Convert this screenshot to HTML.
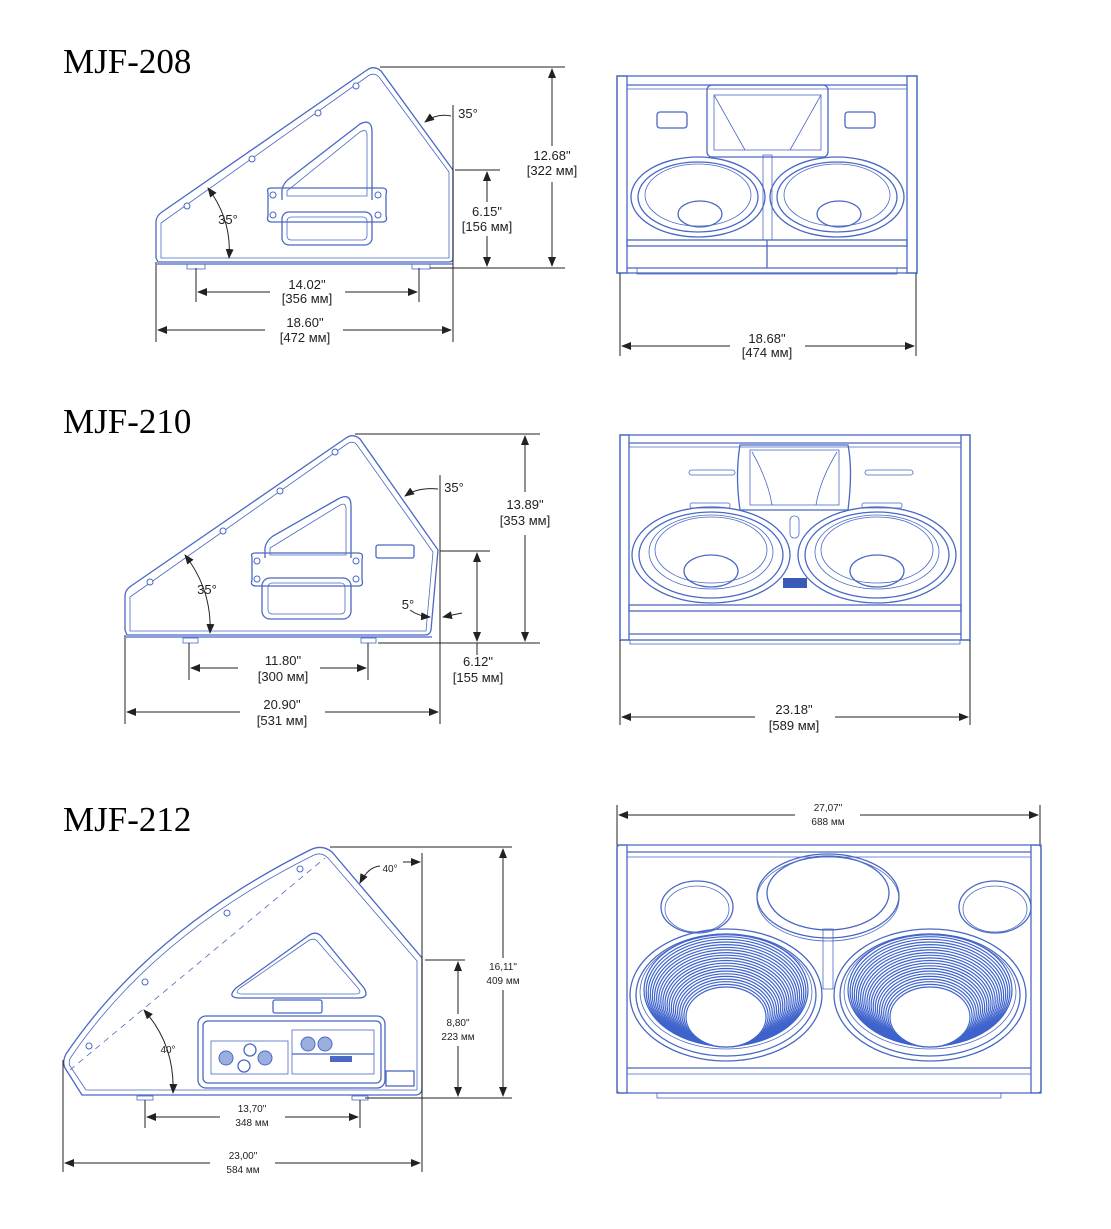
<!DOCTYPE html>
<html><head><meta charset="utf-8"><style>
html,body{margin:0;padding:0;background:#fff}
svg{display:block}
.b{fill:none;stroke:#4a68c4;stroke-width:1.3}
.bt{fill:none;stroke:#4a68c4;stroke-width:0.8}
.d{fill:none;stroke:#222;stroke-width:1}
.t{font-family:"Liberation Sans","DejaVu Sans",sans-serif;font-size:13px;fill:#222;text-anchor:middle}
.s{font-family:"Liberation Sans","DejaVu Sans",sans-serif;font-size:10px;fill:#222;text-anchor:middle}
.h{font-family:"Liberation Serif",serif;font-size:35px;fill:#000}
.sc{fill:#fff;stroke:#4a68c4;stroke-width:1}
</style></head><body>
<svg width="1111" height="1229" viewBox="0 0 1111 1229" xmlns="http://www.w3.org/2000/svg">
<defs>
<marker id="a" markerWidth="10" markerHeight="8" refX="9" refY="4" orient="auto-start-reverse" markerUnits="userSpaceOnUse"><path d="M0,0 L10,4 L0,8 z" fill="#222"/></marker>
</defs>
<rect width="1111" height="1229" fill="#fff"/>
<text class="h" x="63" y="73">MJF-208</text>
<text class="h" x="63" y="433">MJF-210</text>
<text class="h" x="63" y="831">MJF-212</text>

<!-- ===== MJF-208 side ===== -->
<path class="b" d="M158,262 L156,258 L156,222 Q156,216 162,212 L367,70 Q374,65 381,71 L453,170 L453,258 Q453,262 449,262 Z"/>
<path class="bt" d="M161,258 L161,223 L368,76 Q374,72 379,77 L449,172 L449,258 Z"/>
<line class="b" x1="157" y1="264" x2="453" y2="264"/>
<rect class="bt" x="187" y="264" width="18" height="5"/>
<rect class="bt" x="412" y="264" width="18" height="5"/>
<circle class="sc" cx="187" cy="206" r="3"/><circle class="sc" cx="252" cy="159" r="3"/><circle class="sc" cx="318" cy="113" r="3"/><circle class="sc" cx="356" cy="86" r="3"/>
<path class="b" d="M282,200 L282,190 Q283,183 290,178 L360,124 Q372,118 372,132 L372,200"/>
<path class="bt" d="M287,196 L287,191 L360,132 Q367,128 367,135 L367,196 Z"/>
<path class="b" d="M268,192 Q266,188 272,188 L382,188 Q388,188 386,194 L386,216 Q388,222 382,222 L272,222 Q266,222 268,216 Z"/>
<rect class="b" x="282" y="212" width="90" height="33" rx="7"/>
<rect class="bt" x="287" y="217" width="80" height="23" rx="4"/>
<circle class="sc" cx="273" cy="195" r="3"/><circle class="sc" cx="273" cy="215" r="3"/><circle class="sc" cx="378" cy="195" r="3"/><circle class="sc" cx="378" cy="215" r="3"/>
<!-- dims 208 -->
<line class="d" x1="380" y1="67" x2="565" y2="67"/>
<line class="d" x1="430" y1="268" x2="565" y2="268"/>
<line class="d" x1="455" y1="170" x2="500" y2="170"/>
<line class="d" x1="552" y1="69" x2="552" y2="146" marker-start="url(#a)"/>
<line class="d" x1="552" y1="182" x2="552" y2="266" marker-end="url(#a)"/>
<text class="t" x="552" y="160">12.68"</text><text class="t" x="552" y="175">[322 мм]</text>
<line class="d" x1="487" y1="172" x2="487" y2="202" marker-start="url(#a)"/>
<line class="d" x1="487" y1="236" x2="487" y2="266" marker-end="url(#a)"/>
<text class="t" x="487" y="216">6.15"</text><text class="t" x="487" y="231">[156 мм]</text>
<line class="d" x1="453" y1="105" x2="453" y2="342"/>
<line class="d" x1="156" y1="262" x2="156" y2="342"/>
<line class="d" x1="196" y1="268" x2="196" y2="302"/>
<line class="d" x1="419" y1="268" x2="419" y2="302"/>
<line class="d" x1="198" y1="292" x2="270" y2="292" marker-start="url(#a)"/>
<line class="d" x1="345" y1="292" x2="417" y2="292" marker-end="url(#a)"/>
<text class="t" x="307" y="289">14.02"</text><text class="t" x="307" y="303">[356 мм]</text>
<line class="d" x1="158" y1="330" x2="265" y2="330" marker-start="url(#a)"/>
<line class="d" x1="343" y1="330" x2="451" y2="330" marker-end="url(#a)"/>
<text class="t" x="305" y="327">18.60"</text><text class="t" x="305" y="342">[472 мм]</text>
<path class="d" d="M425,122 Q437,113 451,116" marker-start="url(#a)"/>
<text class="t" x="468" y="118">35°</text>
<path class="d" d="M208,188 Q232,220 229,258" marker-start="url(#a)" marker-end="url(#a)"/>
<text class="t" x="228" y="224">35°</text>

<!-- ===== MJF-208 front ===== -->
<rect class="b" x="617" y="76" width="300" height="197"/>
<rect class="b" x="617" y="76" width="10" height="197"/>
<rect class="b" x="907" y="76" width="10" height="197"/>
<line class="b" x1="627" y1="85" x2="907" y2="85"/><line class="bt" x1="627" y1="89" x2="907" y2="89"/>
<rect class="b" x="657" y="112" width="30" height="16" rx="3"/>
<rect class="b" x="845" y="112" width="30" height="16" rx="3"/>
<rect class="b" x="707" y="85" width="121" height="72" rx="5"/>
<rect class="bt" x="714" y="95" width="107" height="55"/>
<line class="bt" x1="714" y1="95" x2="745" y2="150"/><line class="bt" x1="821" y1="95" x2="790" y2="150"/>
<rect class="bt" x="763" y="155" width="9" height="85"/>
<g id="w8">
<ellipse class="b" cx="698" cy="197" rx="67" ry="40"/>
<ellipse class="b" cx="698" cy="197" rx="60" ry="35"/>
<ellipse class="bt" cx="698" cy="195" rx="53" ry="31"/>
<ellipse class="b" cx="700" cy="214" rx="22" ry="13"/>
</g>
<use href="#w8" transform="translate(139,0)"/>
<rect class="b" x="627" y="240" width="280" height="6"/>
<rect class="bt" x="627" y="246" width="280" height="22"/>
<line class="b" x1="627" y1="268" x2="907" y2="268"/>
<rect class="bt" x="637" y="268" width="260" height="6"/>
<line class="b" x1="767" y1="240" x2="767" y2="268"/>
<line class="d" x1="620" y1="273" x2="620" y2="356"/><line class="d" x1="916" y1="273" x2="916" y2="356"/>
<line class="d" x1="622" y1="346" x2="730" y2="346" marker-start="url(#a)"/>
<line class="d" x1="805" y1="346" x2="914" y2="346" marker-end="url(#a)"/>
<text class="t" x="767" y="343">18.68"</text><text class="t" x="767" y="357">[474 мм]</text>

<!-- ===== MJF-210 side ===== -->
<path class="b" d="M127,635 L125,630 L125,596 Q125,590 131,586 L346,438 Q353,433 360,439 L438,550 L431,630 Q430,635 425,635 Z"/>
<path class="bt" d="M130,631 L130,597 L347,444 Q353,440 357,445 L433,552 L426,631 Z"/>
<line class="b" x1="126" y1="637" x2="432" y2="637"/>
<rect class="bt" x="183" y="638" width="15" height="5"/>
<rect class="bt" x="361" y="638" width="15" height="5"/>
<circle class="sc" cx="150" cy="582" r="3"/><circle class="sc" cx="223" cy="531" r="3"/><circle class="sc" cx="280" cy="491" r="3"/><circle class="sc" cx="335" cy="452" r="3"/>
<path class="b" d="M265,558 L265,548 Q266,541 273,536 L338,499 Q351,492 351,506 L351,558"/>
<path class="bt" d="M270,555 L270,548 L340,505 Q346,502 346,509 L346,555 Z"/>
<path class="b" d="M252,557 Q250,553 256,553 L358,553 Q364,553 362,559 L362,580 Q364,586 358,586 L256,586 Q250,586 252,580 Z"/>
<rect class="b" x="262" y="578" width="89" height="41" rx="8"/>
<rect class="bt" x="268" y="583" width="77" height="31" rx="4"/>
<circle class="sc" cx="257" cy="561" r="3"/><circle class="sc" cx="257" cy="579" r="3"/><circle class="sc" cx="356" cy="561" r="3"/><circle class="sc" cx="356" cy="579" r="3"/>
<rect class="b" x="376" y="545" width="38" height="13" rx="2"/>
<!-- dims 210 -->
<line class="d" x1="355" y1="434" x2="540" y2="434"/>
<line class="d" x1="378" y1="643" x2="540" y2="643"/>
<line class="d" x1="440" y1="551" x2="490" y2="551"/>
<line class="d" x1="525" y1="436" x2="525" y2="492" marker-start="url(#a)"/>
<line class="d" x1="525" y1="535" x2="525" y2="641" marker-end="url(#a)"/>
<text class="t" x="525" y="509">13.89"</text><text class="t" x="525" y="525">[353 мм]</text>
<line class="d" x1="477" y1="553" x2="477" y2="641" marker-start="url(#a)" marker-end="url(#a)"/>
<line class="d" x1="477" y1="643" x2="477" y2="655"/>
<text class="t" x="478" y="666">6.12"</text><text class="t" x="478" y="682">[155 мм]</text>
<line class="d" x1="440" y1="475" x2="440" y2="724"/>
<line class="d" x1="125" y1="635" x2="125" y2="724"/>
<line class="d" x1="189" y1="643" x2="189" y2="680"/>
<line class="d" x1="368" y1="643" x2="368" y2="680"/>
<line class="d" x1="191" y1="668" x2="238" y2="668" marker-start="url(#a)"/>
<line class="d" x1="320" y1="668" x2="366" y2="668" marker-end="url(#a)"/>
<text class="t" x="283" y="665">11.80"</text><text class="t" x="283" y="681">[300 мм]</text>
<line class="d" x1="127" y1="712" x2="240" y2="712" marker-start="url(#a)"/>
<line class="d" x1="325" y1="712" x2="438" y2="712" marker-end="url(#a)"/>
<text class="t" x="282" y="709">20.90"</text><text class="t" x="282" y="725">[531 мм]</text>
<path class="d" d="M405,496 Q418,487 438,489" marker-start="url(#a)"/>
<text class="t" x="454" y="492">35°</text>
<path class="d" d="M185,555 Q212,590 210,633" marker-start="url(#a)" marker-end="url(#a)"/>
<text class="t" x="207" y="594">35°</text>
<path class="d" d="M410,610 Q418,616 430,617" marker-end="url(#a)"/>
<line class="d" x1="462" y1="613" x2="443" y2="617" marker-end="url(#a)"/>
<text class="t" x="408" y="609">5°</text>

<!-- ===== MJF-210 front ===== -->
<rect class="b" x="620" y="435" width="350" height="205"/>
<rect class="b" x="620" y="435" width="9" height="205"/>
<rect class="b" x="961" y="435" width="9" height="205"/>
<line class="b" x1="629" y1="443" x2="961" y2="443"/><line class="bt" x1="629" y1="447" x2="961" y2="447"/>
<rect class="bt" x="689" y="470" width="46" height="5" rx="2.5"/>
<rect class="bt" x="865" y="470" width="48" height="5" rx="2.5"/>
<rect class="bt" x="690" y="503" width="40" height="5" rx="2"/>
<rect class="bt" x="862" y="503" width="40" height="5" rx="2"/>
<path class="b" d="M740,445 L848,445 Q853,470 848,510 L740,510 Q735,475 740,445 Z"/>
<rect class="bt" x="750" y="450" width="89" height="55"/>
<path class="bt" d="M752,452 Q768,480 772,505 M837,452 Q820,480 816,505"/>
<rect class="bt" x="790" y="516" width="9" height="22" rx="4"/>
<rect fill="#3a5ab8" x="783" y="578" width="24" height="10"/>
<g id="w10">
<ellipse class="b" cx="711" cy="555" rx="79" ry="48"/>
<ellipse class="b" cx="711" cy="555" rx="72" ry="43"/>
<ellipse class="bt" cx="711" cy="552" rx="62" ry="37"/>
<ellipse class="bt" cx="711" cy="550" rx="56" ry="33"/>
<ellipse class="b" cx="711" cy="571" rx="27" ry="16"/>
</g>
<use href="#w10" transform="translate(166,0)"/>
<rect class="b" x="629" y="605" width="332" height="6"/>
<rect class="bt" x="629" y="611" width="332" height="23"/>
<line class="b" x1="629" y1="634" x2="961" y2="634"/>
<rect class="bt" x="630" y="640" width="330" height="4"/>
<line class="d" x1="620" y1="640" x2="620" y2="725"/><line class="d" x1="970" y1="640" x2="970" y2="725"/>
<line class="d" x1="622" y1="717" x2="755" y2="717" marker-start="url(#a)"/>
<line class="d" x1="835" y1="717" x2="968" y2="717" marker-end="url(#a)"/>
<text class="t" x="794" y="714">23.18"</text><text class="t" x="794" y="730">[589 мм]</text>

<!-- ===== MJF-212 side ===== -->
<path class="b" d="M82,1095 L65,1068 Q62,1062 66,1054 Q150,930 310,850 Q322,844 332,852 L422,958 L422,1088 Q422,1095 415,1095 Z"/>
<path class="bt" d="M86,1090 L70,1066 Q68,1062 71,1057 Q154,935 312,856 Q321,851 328,858 L417,961 L417,1090 Z"/>
<rect class="bt" x="137" y="1096" width="16" height="4"/>
<rect class="bt" x="352" y="1096" width="16" height="4"/>
<line class="bt" x1="70" y1="1070" x2="325" y2="858" stroke-dasharray="6,5"/>
<circle class="sc" cx="89" cy="1046" r="3"/><circle class="sc" cx="145" cy="982" r="3"/><circle class="sc" cx="227" cy="913" r="3"/><circle class="sc" cx="300" cy="869" r="3"/>
<path class="b" d="M240,998 Q226,998 236,988 L308,936 Q316,930 322,937 L364,988 Q370,998 358,998 Z"/>
<path class="bt" d="M243,994 Q233,994 240,988 L308,941 Q314,937 318,942 L358,988 Q363,994 355,994 Z"/>
<rect class="b" x="273" y="1000" width="49" height="13" rx="2"/>
<rect class="b" x="198" y="1016" width="187" height="72" rx="8"/>
<rect class="b" x="203" y="1021" width="178" height="62" rx="5"/>
<rect class="bt" x="211" y="1041" width="77" height="33"/>
<rect class="bt" x="292" y="1030" width="82" height="44"/>
<line class="b" x1="292" y1="1054" x2="374" y2="1054"/>
<circle cx="226" cy="1058" r="7" fill="#9aaee0" stroke="#4a68c4"/><circle cx="265" cy="1058" r="7" fill="#9aaee0" stroke="#4a68c4"/>
<circle class="b" cx="250" cy="1050" r="6"/><circle class="b" cx="244" cy="1066" r="6"/>
<circle cx="308" cy="1044" r="7" fill="#9aaee0" stroke="#4a68c4"/><circle cx="325" cy="1044" r="7" fill="#9aaee0" stroke="#4a68c4"/>
<rect fill="#4a68c4" x="330" y="1056" width="22" height="6"/>
<rect class="b" x="386" y="1071" width="28" height="15"/>
<!-- dims 212 -->
<line class="d" x1="330" y1="847" x2="512" y2="847"/>
<line class="d" x1="365" y1="1098" x2="512" y2="1098"/>
<line class="d" x1="425" y1="960" x2="465" y2="960"/>
<line class="d" x1="503" y1="849" x2="503" y2="958" marker-start="url(#a)"/>
<line class="d" x1="503" y1="990" x2="503" y2="1096" marker-end="url(#a)"/>
<text class="s" x="503" y="970">16,11"</text><text class="s" x="503" y="984">409 мм</text>
<line class="d" x1="458" y1="962" x2="458" y2="1014" marker-start="url(#a)"/>
<line class="d" x1="458" y1="1046" x2="458" y2="1096" marker-end="url(#a)"/>
<text class="s" x="458" y="1026">8,80"</text><text class="s" x="458" y="1040">223 мм</text>
<line class="d" x1="422" y1="853" x2="422" y2="1172"/>
<line class="d" x1="63" y1="1060" x2="63" y2="1172"/>
<line class="d" x1="145" y1="1100" x2="145" y2="1128"/>
<line class="d" x1="360" y1="1100" x2="360" y2="1128"/>
<line class="d" x1="147" y1="1117" x2="220" y2="1117" marker-start="url(#a)"/>
<line class="d" x1="285" y1="1117" x2="358" y2="1117" marker-end="url(#a)"/>
<text class="s" x="252" y="1112">13,70"</text><text class="s" x="252" y="1126">348 мм</text>
<line class="d" x1="65" y1="1163" x2="210" y2="1163" marker-start="url(#a)"/>
<line class="d" x1="275" y1="1163" x2="420" y2="1163" marker-end="url(#a)"/>
<text class="s" x="243" y="1159">23,00"</text><text class="s" x="243" y="1173">584 мм</text>
<path class="d" d="M360,883 Q368,867 380,866" marker-start="url(#a)"/>
<line class="d" x1="403" y1="862" x2="420" y2="862" marker-end="url(#a)"/>
<text class="s" x="390" y="872">40°</text>
<path class="d" d="M144,1010 Q175,1045 173,1093" marker-start="url(#a)" marker-end="url(#a)"/>
<text class="s" x="168" y="1053">40°</text>

<!-- ===== MJF-212 front ===== -->
<line class="d" x1="617" y1="805" x2="617" y2="845"/><line class="d" x1="1040" y1="805" x2="1040" y2="845"/>
<line class="d" x1="619" y1="815" x2="795" y2="815" marker-start="url(#a)"/>
<line class="d" x1="860" y1="815" x2="1038" y2="815" marker-end="url(#a)"/>
<text class="s" x="828" y="811">27,07"</text><text class="s" x="828" y="825">688 мм</text>
<rect class="b" x="617" y="845" width="424" height="248" rx="3"/>
<rect class="b" x="617" y="845" width="10" height="248"/>
<rect class="b" x="1031" y="845" width="10" height="248"/>
<line class="b" x1="627" y1="852" x2="1031" y2="852"/><line class="bt" x1="627" y1="857" x2="1031" y2="857"/>
<line class="b" x1="627" y1="1068" x2="1031" y2="1068"/><line class="bt" x1="627" y1="1074" x2="1031" y2="1074"/>
<rect class="bt" x="657" y="1093" width="344" height="5"/>
<ellipse class="b" cx="828" cy="896" rx="71" ry="42"/>
<ellipse class="bt" cx="828" cy="899" rx="71" ry="42"/>
<ellipse class="b" cx="828" cy="893" rx="61" ry="37"/>
<ellipse class="b" cx="697" cy="907" rx="36" ry="26"/><ellipse class="bt" cx="697" cy="909" rx="32" ry="23"/>
<ellipse class="b" cx="995" cy="907" rx="36" ry="26"/><ellipse class="bt" cx="995" cy="909" rx="32" ry="23"/>
<rect class="bt" x="823" y="929" width="10" height="60"/>
<g id="w12">
<ellipse class="b" cx="726" cy="995" rx="96" ry="66" fill="#fff"/>
<ellipse class="b" cx="726" cy="995" rx="90" ry="61"/>
<ellipse class="bt" cx="726" cy="992" rx="86" ry="57"/>
<g fill="none" stroke="#3f63cc" stroke-width="1.2">
<ellipse cx="726" cy="990" rx="82" ry="56"/>
<ellipse cx="726" cy="991.4" rx="79.9" ry="54.7"/>
<ellipse cx="726" cy="992.7" rx="77.8" ry="53.4"/>
<ellipse cx="726" cy="994.1" rx="75.7" ry="52.1"/>
<ellipse cx="726" cy="995.4" rx="73.6" ry="50.8"/>
<ellipse cx="726" cy="996.8" rx="71.5" ry="49.5"/>
<ellipse cx="726" cy="998.1" rx="69.4" ry="48.2"/>
<ellipse cx="726" cy="999.5" rx="67.3" ry="46.9"/>
<ellipse cx="726" cy="1000.8" rx="65.2" ry="45.6"/>
<ellipse cx="726" cy="1002.2" rx="63.1" ry="44.3"/>
<ellipse cx="726" cy="1003.5" rx="61" ry="43"/>
<ellipse cx="726" cy="1004.9" rx="58.9" ry="41.7"/>
<ellipse cx="726" cy="1006.2" rx="56.8" ry="40.4"/>
<ellipse cx="726" cy="1007.6" rx="54.7" ry="39.1"/>
<ellipse cx="726" cy="1008.9" rx="52.6" ry="37.8"/>
<ellipse cx="726" cy="1010.3" rx="50.5" ry="36.5"/>
<ellipse cx="726" cy="1011.6" rx="48.4" ry="35.2"/>
<ellipse cx="726" cy="1013" rx="46.3" ry="33.9"/>
<ellipse cx="726" cy="1014.3" rx="44.2" ry="32.6"/>
<ellipse cx="726" cy="1015.7" rx="42.1" ry="31.3"/>
</g>
<ellipse cx="726" cy="1017" rx="40" ry="30" fill="#fff" stroke="#3f63cc" stroke-width="1.2"/>
</g>
<use href="#w12" transform="translate(204,0)"/>
</svg>
</body></html>
